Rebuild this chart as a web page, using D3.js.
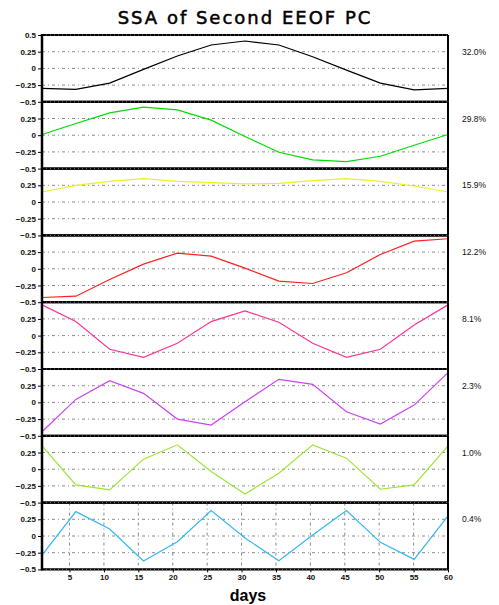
<!DOCTYPE html>
<html>
<head>
<meta charset="utf-8">
<script src="https://cdn.jsdelivr.net/npm/d3@7"></script>
<style>
  html, body { margin: 0; padding: 0; background: #fff; }
  svg { display: block; }
  text { font-family: "Liberation Sans", Arial, sans-serif; }
</style>
</head>
<body>
<svg id="chart" width="499" height="605"></svg>
<script>
// Sample days of the reconstructed components (13 evenly spaced samples, day 1 to 60)
const days = [1, 5.92, 10.83, 15.75, 20.67, 25.58, 30.5, 35.42, 40.33, 45.25, 50.17, 55.08, 60];

// SSA reconstructed components of the second EEOF principal component
const rc1 = [-0.30, -0.315, -0.22, -0.015, 0.185, 0.35, 0.41, 0.35, 0.175, -0.025, -0.22, -0.32, -0.30];
const rc2 = [0.01, 0.175, 0.335, 0.42, 0.38, 0.225, -0.02, -0.255, -0.37, -0.395, -0.315, -0.15, 0.01];
const rc3 = [0.15, 0.25, 0.31, 0.35, 0.31, 0.29, 0.27, 0.28, 0.32, 0.35, 0.31, 0.24, 0.15];
const rc4 = [-0.43, -0.41, -0.16, 0.07, 0.235, 0.19, 0.01, -0.185, -0.22, -0.06, 0.215, 0.415, 0.45];
const rc5 = [0.46, 0.21, -0.205, -0.325, -0.115, 0.21, 0.37, 0.2, -0.115, -0.325, -0.205, 0.16, 0.46];
const rc6 = [-0.44, 0.045, 0.325, 0.135, -0.25, -0.34, 0.01, 0.345, 0.27, -0.14, -0.325, -0.04, 0.445];
const rc7 = [0.35, -0.235, -0.31, 0.15, 0.365, -0.035, -0.37, -0.06, 0.365, 0.165, -0.3, -0.235, 0.35];
const rc8 = [-0.285, 0.365, 0.105, -0.375, -0.085, 0.38, -0.03, -0.37, 0.015, 0.38, -0.095, -0.35, 0.3];

const components = [rc1, rc2, rc3, rc4, rc5, rc6, rc7, rc8];
const variance = ["32.0%", "29.8%", "15.9%", "12.2%", "8.1%", "2.3%", "1.0%", "0.4%"];
const lineColors = ["#000000", "#00dd00", "#eeee22", "#ff2020", "#ff3399", "#cc44ee", "#99e633", "#33b8f0"];

const yTicks = [-0.5, -0.25, 0, 0.25, 0.5];
const xTicks = [5, 10, 15, 20, 25, 30, 35, 40, 45, 50, 55, 60];

const titleText = "SSA of Second EEOF PC";
const xTitle = "days";

// Layout
const plotLeft = 42, plotRight = 448, plotTop = 35, panelH = 66.8;
const svg = d3.select("#chart");

const x = d3.scaleLinear().domain([1, 60]).range([plotLeft, plotRight]);

svg.append("text")
  .attr("x", 245).attr("y", 24)
  .attr("text-anchor", "middle")
  .style("font-family", "'DejaVu Sans', sans-serif")
  .attr("font-size", 18).attr("font-weight", "normal")
  .attr("stroke", "#000").attr("stroke-width", 0.5)
  .attr("letter-spacing", 2)
  .text(titleText);

const fmt = v => v === 0 ? "0" : d3.format("")(v).replace("-", "\u2212");

components.forEach((vals, i) => {
  const y0 = plotTop + i * panelH;
  const y = d3.scaleLinear().domain([-0.5, 0.5]).range([y0 + panelH, y0]);
  const g = svg.append("g");

  // Dash-dot horizontal reference lines
  g.selectAll("line.grid")
    .data([-0.25, 0, 0.25])
    .join("line")
    .attr("x1", plotLeft).attr("x2", plotRight)
    .attr("y1", d => y(d)).attr("y2", d => y(d))
    .attr("stroke", "#8a8a8a").attr("stroke-width", 1)
    .attr("stroke-dasharray", "3,3,1,3");

  // Vertical reference lines only on the bottom panel
  if (i === components.length - 1) {
    g.selectAll("line.vgrid")
      .data(xTicks.slice(0, -1))
      .join("line")
      .attr("x1", d => x(d)).attr("x2", d => x(d))
      .attr("y1", y0).attr("y2", y0 + panelH)
      .attr("stroke", "#8a8a8a").attr("stroke-width", 1)
      .attr("stroke-dasharray", "3,3,1,3");
  }

  // Series line
  const line = d3.line().x((d, k) => x(days[k])).y(d => y(d));
  g.append("path")
    .datum(vals)
    .attr("d", line)
    .attr("fill", "none")
    .attr("stroke", lineColors[i])
    .attr("stroke-width", 1.2);

  // Panel frame: top and bottom borders, right border
  g.selectAll("line.frame")
    .data([0.5, -0.5])
    .join("line")
    .attr("x1", plotLeft).attr("x2", plotRight)
    .attr("y1", d => y(d)).attr("y2", d => y(d))
    .attr("stroke", "#000").attr("stroke-width", 2.2);
  g.selectAll("line.framedot")
    .data([0.5, -0.5])
    .join("line")
    .attr("x1", plotLeft).attr("x2", plotRight)
    .attr("y1", d => y(d)).attr("y2", d => y(d))
    .attr("stroke", "#bbb").attr("stroke-width", 0.6)
    .attr("stroke-dasharray", "1,3");
  g.append("line")
    .attr("x1", plotRight).attr("x2", plotRight)
    .attr("y1", y0).attr("y2", y0 + panelH)
    .attr("stroke", "#000").attr("stroke-width", 2);

  // Left axis with ticks
  const ticks = i === 0 ? yTicks : yTicks.filter(t => t < 0.5);
  const axis = d3.axisLeft(y).tickValues(ticks).tickSize(4).tickPadding(2).tickFormat(fmt);
  const ax = g.append("g").attr("transform", `translate(${plotLeft},0)`).call(axis);
  ax.select(".domain").remove();
  ax.selectAll("text").attr("font-size", 8).attr("font-weight", "bold").attr("fill", "#111");
  ax.selectAll("line").attr("stroke", "#000").attr("stroke-width", 1);

  // Explained variance label
  g.append("text")
    .attr("x", 462).attr("y", y(0.25) + 3)
    .attr("font-size", 8.5)
    .attr("fill", "#111")
    .text(variance[i]);
});

// Left spine
svg.append("line")
  .attr("x1", plotLeft).attr("x2", plotLeft)
  .attr("y1", plotTop - 1).attr("y2", plotTop + panelH * components.length + 1)
  .attr("stroke", "#000").attr("stroke-width", 2.5);

// Bottom x axis
const plotBottom = plotTop + panelH * components.length;
const xAxis = d3.axisBottom(x).tickValues(xTicks).tickSize(3).tickPadding(2);
const xa = svg.append("g").attr("transform", `translate(0,${plotBottom})`).call(xAxis);
xa.select(".domain").remove();
xa.selectAll("text").attr("font-size", 8).attr("font-weight", "bold").attr("fill", "#111");
xa.selectAll("line").attr("stroke", "#000");

svg.append("text")
  .attr("x", 248).attr("y", 601)
  .attr("text-anchor", "middle")
  .attr("font-size", 16).attr("font-weight", "bold")
  .text(xTitle);
</script>
</body>
</html>
